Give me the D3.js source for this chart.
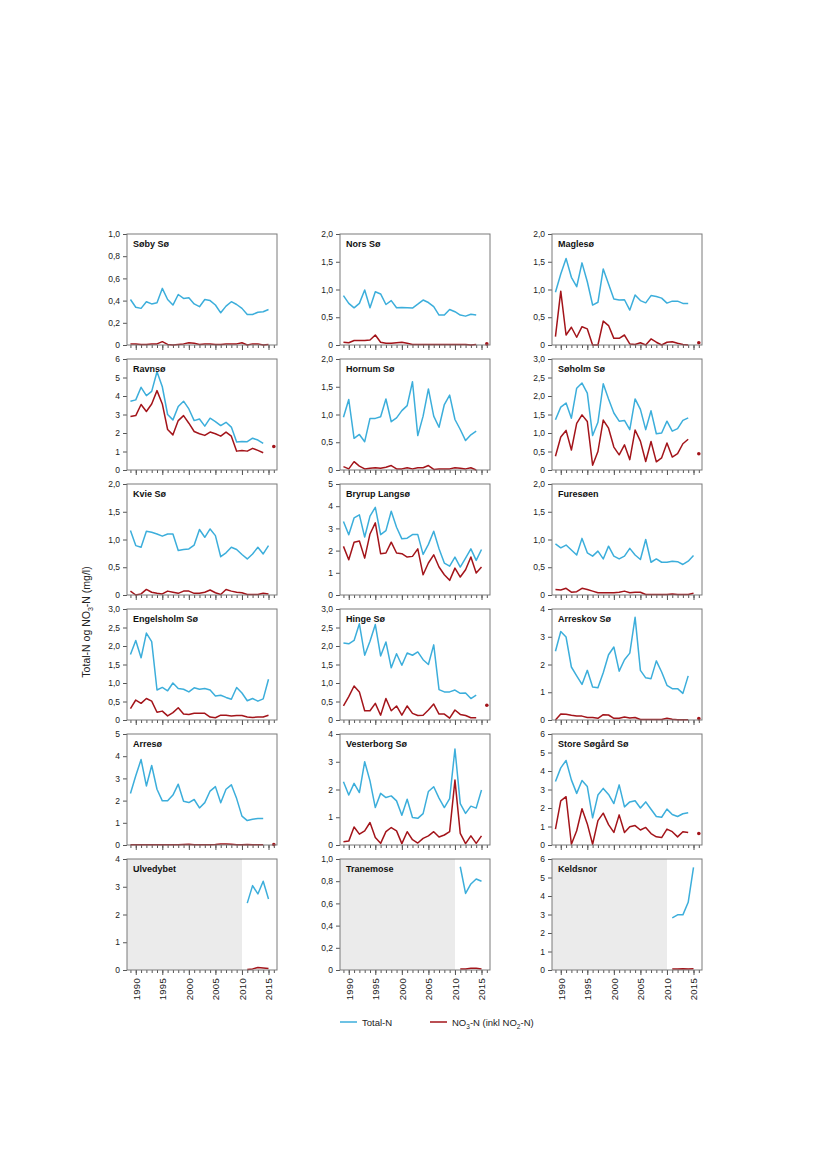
<!DOCTYPE html>
<html lang="da">
<head>
<meta charset="UTF-8" />
<script src="https://d3js.org/d3.v7.min.js"></script>
<style>
  body { margin: 0; background: #fff; }
  text { font-family: "Liberation Sans", Arial, sans-serif; }
  .axis .domain { stroke: none; }
  .axis line { stroke: #555; }
  .axis text { font-size: 8.5px; fill: #222; }
</style>
</head>
<body>
<svg id="chart" width="826" height="1169"></svg>
<script>
// lake names, row by row
const lakeNames = ["Søby Sø", "Nors Sø", "Maglesø", "Ravnsø", "Hornum Sø", "Søholm Sø",
  "Kvie Sø", "Bryrup Langsø", "Furesøen", "Engelsholm Sø", "Hinge Sø", "Arreskov Sø",
  "Arresø", "Vesterborg Sø", "Store Søgård Sø", "Ulvedybet", "Tranemose", "Keldsnor"];
const yMax = [1, 2, 2, 6, 2, 3, 2, 5, 2, 3, 3, 4, 5, 4, 6, 4, 1, 6];
const yStep = [0.2, 0.5, 0.5, 1, 0.5, 0.5, 0.5, 1, 0.5, 0.5, 0.5, 1, 1, 1, 1, 1, 0.2, 1];
const startYear = [1989, 1989, 1989, 1989, 1989, 1989, 1989, 1989, 1989, 1989, 1989, 1989,
  1989, 1989, 1989, 2011, 2011, 2011];
const xTickYears = d3.range(1989, 2017);
const xLabelYears = [1990, 1995, 2000, 2005, 2010, 2015];

// Total-N (mg/l)
const sobyTN = [0.41, 0.34, 0.33, 0.39, 0.37, 0.38, 0.51, 0.41, 0.36, 0.455, 0.42, 0.425, 0.37, 0.345, 0.41, 0.40, 0.36, 0.29, 0.35, 0.39, 0.365, 0.33, 0.275, 0.275, 0.295, 0.30, 0.32];
const norsTN = [0.89, 0.75, 0.67, 0.75, 0.99, 0.67, 0.96, 0.92, 0.73, 0.80, 0.67, 0.675, 0.67, 0.665, 0.735, 0.81, 0.765, 0.69, 0.54, 0.54, 0.64, 0.60, 0.54, 0.52, 0.555, 0.54];
const magleTN = [0.95, 1.28, 1.56, 1.22, 1.05, 1.48, 1.14, 0.72, 0.77, 1.37, 1.10, 0.83, 0.81, 0.815, 0.63, 0.90, 0.80, 0.76, 0.89, 0.875, 0.845, 0.755, 0.79, 0.79, 0.75, 0.75];
const ravnTN = [3.72, 3.79, 4.47, 4.02, 4.25, 5.31, 4.5, 3.0, 2.71, 3.43, 3.72, 3.3, 2.67, 2.76, 2.37, 2.8, 2.62, 2.4, 2.58, 2.32, 1.51, 1.54, 1.53, 1.72, 1.62, 1.44];
const hornumTN = [0.95, 1.27, 0.57, 0.64, 0.51, 0.93, 0.93, 0.96, 1.28, 0.87, 0.94, 1.07, 1.16, 1.59, 0.62, 0.97, 1.46, 0.97, 0.77, 1.18, 1.35, 0.91, 0.73, 0.53, 0.635, 0.70];
const soholmTN = [1.36, 1.70, 1.81, 1.40, 2.21, 2.35, 2.08, 0.93, 1.29, 2.33, 1.92, 1.54, 1.32, 1.34, 1.09, 1.92, 1.64, 1.09, 1.60, 0.98, 1.0, 1.32, 1.05, 1.12, 1.34, 1.41];
const kvieTN = [1.16, 0.89, 0.86, 1.15, 1.13, 1.10, 1.06, 1.10, 1.10, 0.80, 0.82, 0.83, 0.90, 1.18, 1.04, 1.19, 1.07, 0.69, 0.76, 0.86, 0.82, 0.73, 0.65, 0.74, 0.86, 0.74, 0.89];
const bryrupTN = [3.31, 2.71, 3.47, 3.61, 2.61, 3.55, 3.95, 2.72, 2.90, 3.77, 3.05, 2.53, 2.56, 2.72, 2.72, 1.83, 2.28, 2.87, 2.08, 1.44, 1.30, 1.71, 1.26, 1.66, 2.08, 1.56, 2.05];
const furesoTN = [0.92, 0.85, 0.90, 0.81, 0.72, 1.02, 0.76, 0.70, 0.79, 0.65, 0.88, 0.70, 0.65, 0.70, 0.84, 0.72, 0.64, 1.00, 0.59, 0.65, 0.59, 0.59, 0.61, 0.60, 0.55, 0.61, 0.71];
const engelTN = [1.77, 2.15, 1.68, 2.35, 2.12, 0.81, 0.88, 0.79, 1.00, 0.85, 0.83, 0.76, 0.87, 0.83, 0.85, 0.81, 0.65, 0.67, 0.61, 0.56, 0.88, 0.73, 0.52, 0.58, 0.51, 0.57, 1.10];
const hingeTN = [2.08, 2.06, 2.15, 2.6, 1.75, 2.13, 2.58, 1.73, 2.11, 1.41, 1.79, 1.48, 1.81, 1.75, 1.84, 1.63, 1.50, 2.03, 0.82, 0.76, 0.76, 0.81, 0.72, 0.73, 0.58, 0.67];
const arreskovTN = [2.48, 3.19, 2.99, 1.91, 1.59, 1.28, 1.79, 1.19, 1.16, 1.70, 2.35, 2.63, 1.76, 2.17, 2.41, 3.70, 1.79, 1.52, 1.49, 2.13, 1.73, 1.25, 1.13, 1.13, 0.96, 1.59];
const arresoTN = [2.32, 3.12, 3.85, 2.66, 3.58, 2.51, 1.99, 1.99, 2.25, 2.74, 1.97, 1.91, 2.05, 1.67, 1.91, 2.43, 2.63, 1.90, 2.51, 2.71, 2.09, 1.30, 1.10, 1.16, 1.19, 1.19];
const vesterTN = [2.28, 1.80, 2.22, 1.89, 3.0, 2.31, 1.35, 1.86, 1.71, 1.77, 1.59, 1.07, 1.65, 0.99, 0.96, 1.13, 1.93, 2.10, 1.69, 1.35, 1.67, 3.46, 1.49, 1.14, 1.40, 1.33, 1.98];
const sogardTN = [3.43, 4.17, 4.57, 3.52, 2.79, 3.49, 3.16, 1.47, 2.70, 3.06, 2.73, 2.24, 3.25, 2.06, 2.33, 2.39, 2.0, 2.33, 1.93, 1.54, 1.50, 1.94, 1.65, 1.54, 1.69, 1.74];
const ulveTN = [2.41, 3.04, 2.74, 3.20, 2.56];
const traneTN = [0.93, 0.69, 0.775, 0.82, 0.80];
const keldTN = [2.82, 2.98, 2.98, 3.66, 5.55];

// NO3-N incl. NO2-N (mg/l)
const sobyNO3 = [0.01, 0.01, 0.005, 0.005, 0.01, 0.01, 0.03, 0.005, 0.0, 0.005, 0.01, 0.02, 0.015, 0.005, 0.01, 0.01, 0.005, 0.005, 0.01, 0.01, 0.01, 0.02, 0.0, 0.01, 0.01, 0.0, 0.005];
const norsNO3 = [0.05, 0.04, 0.08, 0.08, 0.08, 0.09, 0.18, 0.05, 0.03, 0.03, 0.04, 0.05, 0.03, 0.01, 0.01, 0.01, 0.01, 0.01, 0.01, 0.01, 0.01, 0.01, 0.01, 0.01, 0.0, 0.01];
const magleNO3 = [0.15, 0.97, 0.18, 0.32, 0.14, 0.33, 0.29, 0.0, 0.0, 0.43, 0.35, 0.12, 0.12, 0.18, 0.02, 0.01, 0.04, 0.0, 0.11, 0.05, 0.0, 0.05, 0.06, 0.03, 0.01, 0.0];
const ravnNO3 = [2.89, 2.94, 3.54, 3.16, 3.57, 4.29, 3.57, 2.19, 1.9, 2.67, 2.94, 2.53, 2.08, 1.96, 1.87, 2.05, 1.96, 1.83, 2.05, 1.83, 1.02, 1.06, 1.02, 1.17, 1.06, 0.93];
const hornumNO3 = [0.06, 0.02, 0.15, 0.07, 0.02, 0.03, 0.04, 0.03, 0.05, 0.08, 0.02, 0.02, 0.04, 0.02, 0.04, 0.04, 0.08, 0.01, 0.02, 0.02, 0.02, 0.04, 0.03, 0.02, 0.04, 0.0];
const soholmNO3 = [0.37, 0.89, 1.07, 0.54, 1.26, 1.49, 1.31, 0.13, 0.50, 1.35, 1.13, 0.62, 0.41, 0.68, 0.28, 1.08, 0.78, 0.23, 0.77, 0.22, 0.33, 0.73, 0.35, 0.44, 0.71, 0.83];
const kvieNO3 = [0.07, 0.0, 0.02, 0.1, 0.05, 0.03, 0.02, 0.07, 0.05, 0.03, 0.07, 0.07, 0.03, 0.03, 0.05, 0.09, 0.04, 0.01, 0.1, 0.07, 0.05, 0.04, 0.01, 0.01, 0.01, 0.03, 0.02];
const bryrupNO3 = [2.19, 1.59, 2.38, 2.43, 1.66, 2.75, 3.25, 1.86, 1.89, 2.38, 1.89, 1.86, 1.71, 1.74, 2.08, 0.91, 1.44, 1.81, 1.26, 0.91, 0.66, 1.21, 0.81, 1.14, 1.71, 0.99, 1.26];
const furesoNO3 = [0.1, 0.09, 0.12, 0.05, 0.06, 0.12, 0.1, 0.07, 0.04, 0.04, 0.04, 0.04, 0.05, 0.07, 0.04, 0.05, 0.05, 0.01, 0.01, 0.01, 0.01, 0.01, 0.02, 0.01, 0.01, 0.01, 0.03];
const engelNO3 = [0.31, 0.54, 0.45, 0.58, 0.51, 0.21, 0.24, 0.11, 0.20, 0.33, 0.16, 0.15, 0.18, 0.18, 0.18, 0.08, 0.06, 0.13, 0.13, 0.11, 0.12, 0.12, 0.08, 0.07, 0.08, 0.08, 0.13];
const hingeNO3 = [0.38, 0.63, 0.92, 0.76, 0.25, 0.25, 0.45, 0.13, 0.58, 0.25, 0.38, 0.13, 0.38, 0.18, 0.12, 0.13, 0.27, 0.43, 0.16, 0.16, 0.05, 0.27, 0.15, 0.12, 0.06, 0.06];
const arreskovNO3 = [0.0, 0.22, 0.21, 0.17, 0.14, 0.14, 0.09, 0.09, 0.06, 0.19, 0.18, 0.06, 0.06, 0.11, 0.07, 0.09, 0.02, 0.02, 0.02, 0.02, 0.02, 0.06, 0.03, 0.01, 0.01, 0.01];
const arresoNO3 = [0.01, 0.01, 0.01, 0.01, 0.01, 0.01, 0.01, 0.01, 0.01, 0.01, 0.02, 0.03, 0.01, 0.01, 0.01, 0.01, 0.02, 0.04, 0.05, 0.03, 0.01, 0.01, 0.02, 0.01, 0.01, 0.01];
const vesterNO3 = [0.12, 0.14, 0.65, 0.39, 0.51, 0.81, 0.27, 0.06, 0.48, 0.63, 0.51, 0.05, 0.48, 0.19, 0.07, 0.24, 0.33, 0.48, 0.29, 0.36, 0.48, 2.34, 0.42, 0.05, 0.33, 0.06, 0.33];
const sogardNO3 = [0.86, 2.39, 2.61, 0.04, 0.77, 1.96, 1.14, 0.04, 1.32, 1.72, 1.1, 0.68, 1.63, 0.68, 0.99, 1.05, 0.81, 0.95, 0.62, 0.44, 0.40, 0.86, 0.72, 0.44, 0.72, 0.68];
const ulveNO3 = [0.02, 0.04, 0.09, 0.07, 0.05];
const traneNO3 = [0.01, 0.01, 0.015, 0.015, 0.01];
const keldNO3 = [0.05, 0.06, 0.07, 0.06, 0.07];

// single NO3-N points drawn to the right of the series (null = none)
const dotYear = 2016;
const dotNO3 = [null, 0.02, 0.04, 1.27, null, 0.44, null, null, null, null, 0.40, 0.05,
  0.02, null, 0.62, null, null, null];

const tnSeries = [sobyTN, norsTN, magleTN, ravnTN, hornumTN, soholmTN, kvieTN, bryrupTN, furesoTN,
  engelTN, hingeTN, arreskovTN, arresoTN, vesterTN, sogardTN, ulveTN, traneTN, keldTN];
const no3Series = [sobyNO3, norsNO3, magleNO3, ravnNO3, hornumNO3, soholmNO3, kvieNO3, bryrupNO3, furesoNO3,
  engelNO3, hingeNO3, arreskovNO3, arresoNO3, vesterNO3, sogardNO3, ulveNO3, traneNO3, keldNO3];

const tnColor = "#3caedb";
const no3Color = "#a3141a";

const svg = d3.select("#chart");
const colLeft = [127, 340, 552];
const rowTop = [234, 359, 484, 609, 734, 859];
const panelW = 150;
const panelH = 111;

const x = d3.scaleLinear().domain([1988.35, 2016.6]).range([0, panelW]);

lakeNames.forEach(function (name, i) {
  const row = Math.floor(i / 3);
  const col = i % 3;
  const g = svg.append("g")
    .attr("transform", "translate(" + colLeft[col] + "," + rowTop[row] + ")");
  const y = d3.scaleLinear().domain([0, yMax[i]]).range([panelH, 0]);

  // grey "no data" area for the last row
  if (startYear[i] > 1989) {
    g.append("rect")
      .attr("x", 0).attr("y", 0)
      .attr("width", x(2010)).attr("height", panelH)
      .attr("fill", "#ebebeb");
  }

  const isDecimal = yStep[i] < 1;
  const yTicks = d3.range(0, yMax[i] + yStep[i] / 2, yStep[i]);
  const leftAxis = d3.axisLeft(y)
    .tickValues(yTicks)
    .tickSize(4)
    .tickPadding(3)
    .tickFormat(d => d === 0 ? "0" : (isDecimal ? d3.format(".1f")(d).replace(".", ",") : d3.format("d")(d)));
  g.append("g").attr("class", "axis").call(leftAxis);

  const minorAxis = d3.axisBottom(x).tickValues(xTickYears).tickSize(3).tickFormat("");
  g.append("g").attr("class", "axis")
    .attr("transform", "translate(0," + panelH + ")")
    .call(minorAxis);
  const majorAxis = d3.axisBottom(x).tickValues(xLabelYears).tickSize(5)
    .tickFormat(row === 5 ? d3.format("d") : "");
  const major = g.append("g").attr("class", "axis")
    .attr("transform", "translate(0," + panelH + ")")
    .call(majorAxis);
  if (row === 5) {
    major.selectAll("text")
      .attr("transform", "rotate(-90)")
      .attr("text-anchor", "end")
      .attr("x", -8)
      .attr("y", 0)
      .attr("dy", "0.35em")
      .style("font-size", "9.5px")
      .style("letter-spacing", "0.3px");
  }

  const yrs = d3.range(startYear[i], startYear[i] + tnSeries[i].length);
  const line = d3.line().x((d, k) => x(yrs[k])).y(d => y(d));

  g.append("path")
    .datum(no3Series[i])
    .attr("d", line)
    .attr("fill", "none")
    .attr("stroke", no3Color)
    .attr("stroke-width", 1.5)
    .attr("stroke-linejoin", "round");
  g.append("path")
    .datum(tnSeries[i])
    .attr("d", line)
    .attr("fill", "none")
    .attr("stroke", tnColor)
    .attr("stroke-width", 1.5)
    .attr("stroke-linejoin", "round");

  if (dotNO3[i] !== null) {
    g.append("circle")
      .attr("cx", x(dotYear))
      .attr("cy", y(dotNO3[i]))
      .attr("r", 1.8)
      .attr("fill", no3Color);
  }

  g.append("rect")
    .attr("x", 0).attr("y", 0)
    .attr("width", panelW).attr("height", panelH)
    .attr("fill", "none")
    .attr("stroke", "#7a7a7a")
    .attr("stroke-width", 1);

  g.append("text")
    .attr("x", 6).attr("y", 13)
    .attr("font-size", "9px")
    .attr("font-weight", "bold")
    .attr("fill", "#111")
    .text(name);
});

// y axis title
const yTitle = svg.append("text")
  .attr("transform", "translate(90,622) rotate(-90)")
  .attr("text-anchor", "middle")
  .attr("font-size", "10.5px")
  .attr("fill", "#222");
yTitle.append("tspan").text("Total-N og NO");
yTitle.append("tspan").attr("font-size", "7px").attr("dy", 3).text("3");
yTitle.append("tspan").attr("dy", -3).text("-N (mg/l)");

// legend
const legend = svg.append("g").attr("transform", "translate(340,1022)");
legend.append("line").attr("x1", 0).attr("x2", 17).attr("y1", 0).attr("y2", 0)
  .attr("stroke", tnColor).attr("stroke-width", 1.5);
legend.append("text").attr("x", 22).attr("y", 3.5).attr("font-size", "9.5px").attr("fill", "#222")
  .text("Total-N");
legend.append("line").attr("x1", 90).attr("x2", 107).attr("y1", 0).attr("y2", 0)
  .attr("stroke", no3Color).attr("stroke-width", 1.5);
const lt = legend.append("text").attr("x", 112).attr("y", 3.5).attr("font-size", "9.5px").attr("fill", "#222");
lt.append("tspan").text("NO");
lt.append("tspan").attr("font-size", "6.5px").attr("dy", 3).text("3");
lt.append("tspan").attr("dy", -3).text("-N (inkl NO");
lt.append("tspan").attr("font-size", "6.5px").attr("dy", 3).text("2");
lt.append("tspan").attr("dy", -3).text("-N)");
</script>
</body>
</html>
